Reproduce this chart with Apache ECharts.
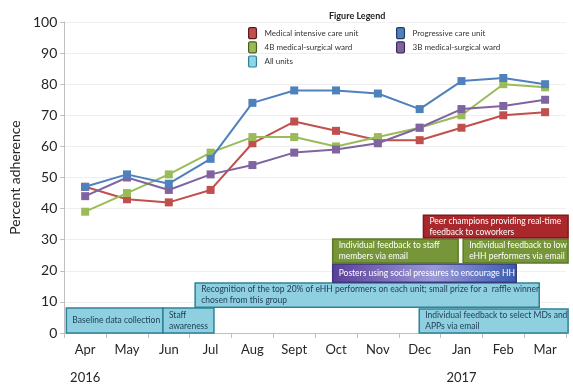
<!DOCTYPE html>
<html><head><meta charset="utf-8">
<script src="https://cdn.jsdelivr.net/npm/echarts@6/dist/echarts.min.js"></script>
<style>html,body{margin:0;padding:0;background:#fff}#c{width:573px;height:385px}</style>
</head><body><div id="c"></div>
<script>
const months = ['Apr','May','Jun','Jul','Aug','Sept','Oct','Nov','Dec','Jan','Feb','Mar'];
const yearLabels = {Apr:'2016', Jan:'2017'};
const yTicks = [0,10,20,30,40,50,60,70,80,90,100];
const seriesNames = ['Medical intensive care unit','Progressive care unit','4B medical-surgical ward','3B medical-surgical ward','All units'];
const micu = [47,43,42,46,61,68,65,62,62,66,70,71];
const pcu  = [47,51,48,56,74,78,78,77,72,81,82,80];
const ward4b = [39,45,51,58,63,63,60,63,66,70,80,79];
const ward3b = [44,50,46,51,54,58,59,61,66,72,73,75];
const allUnits = [];
// intervention timeline (month index units from axis start; percent units)
const boxLabels = [
  'Baseline data collection',
  'Staff\nawareness',
  'Recognition of the top 20% of eHH performers on each unit; small prize for a  raffle winner\nchosen from this group',
  'Individual feedback to select MDs and\nAPPs via email',
  'Posters using social pressures to encourage HH',
  'Individual feedback to staff\nmembers via email',
  'Individual feedback to low\neHH performers via email',
  'Peer champions providing real-time\nfeedback to coworkers'
];
const boxStart = [0.05, 2.36, 3.13, 8.49, 6.42, 6.42, 9.54, 8.59];
const boxEnd   = [2.36, 3.58, 11.36, 12.05, 10.81, 9.42, 12.05, 12.05];
const boxLow   = [0, 0, 8.3, 0, 16.3, 22.5, 22.5, 30.6];
const boxHigh  = [8.0, 8.0, 16.1, 7.7, 22.2, 30.2, 30.2, 37.9];
const boxKind  = ['cyan','cyan','cyan','cyan','poster','green','green','red'];

const kindStyle = {
  cyan: {fill:'#8ed0df', stroke:'#2f8199', text:'#1d3b55'},
  green:{fill:'#77963a', stroke:'#5a7a2a', text:'#ffffff'},
  red:  {fill:'#a8282b', stroke:'#7d1a1c', text:'#ffffff'},
  poster:{fill:{type:'linear',x:0,y:0,x2:1,y2:0,colorStops:[{offset:0,color:'#5b3f98'},{offset:0.55,color:'#9a9ad6'},{offset:1,color:'#3a5bb0'}]}, stroke:'#3a3a80', text:'#ffffff'}
};
const lineColors = ['#c0504d','#4f81bd','#9bbb59','#8064a2','#8ed6ea'];
const FONT = 'Lato, "Open Sans", sans-serif';

const chart = echarts.init(document.getElementById('c'), null, {renderer:'canvas'});
const values = [micu, pcu, ward4b, ward3b, allUnits];
const lineSeries = seriesNames.map((n,i)=>({
  name:n, type:'line', data:values[i], xAxisIndex:0, yAxisIndex:0,
  symbol:'rect', symbolSize:8, showSymbol:true,
  lineStyle:{width:2, color:lineColors[i]},
  itemStyle:{color:lineColors[i]},
  z: 5 + (i===1?1:0)
}));
const boxData = boxLabels.map((l,i)=>[boxStart[i], boxEnd[i], boxLow[i], boxHigh[i]]);
const boxSeries = {
  type:'custom', xAxisIndex:1, yAxisIndex:0, clip:false, z:3,
  data: boxData,
  renderItem: function(params, api){
    const i = params.dataIndex;
    const p0 = api.coord([api.value(0), api.value(3)]);
    const p1 = api.coord([api.value(1), api.value(2)]);
    const st = kindStyle[boxKind[i]];
    return {type:'group', children:[
      {type:'rect', shape:{x:p0[0], y:p0[1], width:p1[0]-p0[0], height:p1[1]-p0[1]},
       style:{fill:st.fill, stroke:st.stroke, lineWidth:1.5}},
      {type:'text', style:{text:boxLabels[i], x:p0[0]+6, y:(p0[1]+p1[1])/2, verticalAlign:'middle', align:'left',
        fill:st.text, fontSize:8.5, fontFamily:FONT, lineHeight:11}}
    ]};
  }
};
const legendIcon = 'path://M2,0 L8,0 Q10,0 10,2 L10,12 Q10,14 8,14 L2,14 Q0,14 0,12 L0,2 Q0,0 2,0 Z';
const legendBorders = ['#5a1a18','#1f3d66','#4a6020','#3a2a55','#2f7f99'];
function legendData(idx){
  return idx.map(i=>({name:seriesNames[i], icon:legendIcon, itemStyle:{color:lineColors[i], borderColor:legendBorders[i], borderWidth:1.2}}));
}
chart.setOption({
  animation:false,
  backgroundColor:'#ffffff',
  title:{text:'Figure Legend', left:324, top:7, textStyle:{fontFamily:FONT, fontSize:9, fontWeight:'bold', color:'#222'}},
  legend:[
    {data:legendData([0,2,4]), orient:'vertical', left:243, top:22, itemWidth:8, itemHeight:11, itemGap:2,
     textStyle:{fontFamily:FONT, fontSize:8, color:'#333', padding:[0,0,0,3]}, selectedMode:false},
    {data:legendData([1,3]), orient:'vertical', left:391, top:22, itemWidth:8, itemHeight:11, itemGap:2,
     textStyle:{fontFamily:FONT, fontSize:8, color:'#333', padding:[0,0,0,3]}, selectedMode:false}
  ],
  grid:{left:63, right:7, top:22, bottom:52, containLabel:false},
  xAxis:[
    {type:'category', data:months, boundaryGap:true,
     axisLine:{show:true, lineStyle:{color:'#bfbfbf', width:1}},
     axisTick:{show:true, length:5, lineStyle:{color:'#bfbfbf'}},
     axisLabel:{fontFamily:FONT, fontSize:13, color:'#262626', margin:10, lineHeight:14,
       formatter:function(v){ return yearLabels[v] ? v+'\n\n'+yearLabels[v] : v; }},
     splitLine:{show:false}},
    {type:'value', min:0, max:12, show:false, position:'bottom'}
  ],
  yAxis:{type:'value', min:0, max:100, interval:10,
    name:'Percent adherence', nameLocation:'middle', nameGap:35, nameRotate:90,
    nameTextStyle:{fontFamily:FONT, fontSize:14, color:'#262626'},
    axisLine:{show:true, lineStyle:{color:'#bfbfbf'}},
    axisTick:{show:true, length:4, lineStyle:{color:'#bfbfbf'}},
    axisLabel:{fontFamily:FONT, fontSize:14, color:'#262626', margin:7,
      formatter:function(v){ return yTicks.indexOf(v)>=0 ? String(v) : ''; }},
    splitLine:{show:true, lineStyle:{color:'#efefef', width:1}}},
  series:[boxSeries].concat(lineSeries)
});
</script></body></html>
